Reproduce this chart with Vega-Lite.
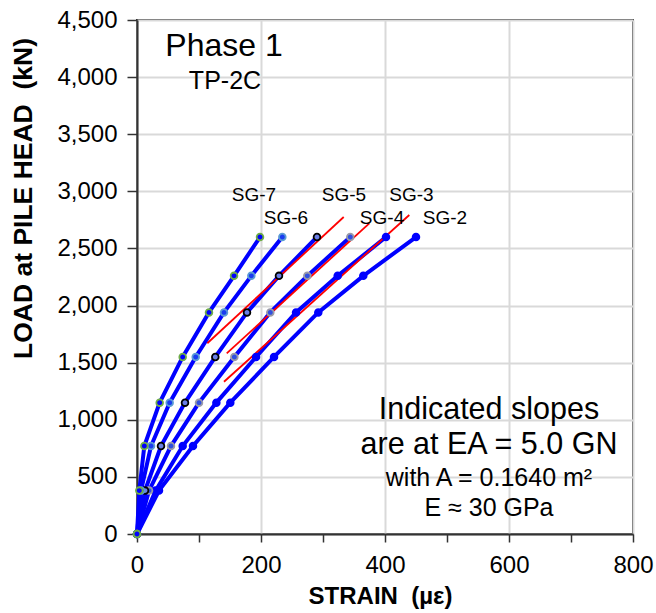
{
  "$schema": "https://vega.github.io/schema/vega-lite/v6.json",
  "width": 496,
  "height": 514,
  "autosize": "none",
  "padding": {"left": 137, "top": 20, "right": 23, "bottom": 79},
  "background": "white",
  "config": {
    "view": {"stroke": "#333333", "strokeWidth": 2},
    "font": "Liberation Sans",
    "axis": {
      "domainColor": "#333333",
      "domainWidth": 2,
      "tickColor": "#333333",
      "tickWidth": 1.5,
      "labelFont": "Liberation Sans",
      "labelFontSize": 24,
      "labelColor": "#000000",
      "labelFlush": false,
      "labelOverlap": false,
      "titleFont": "Liberation Sans",
      "titleFontWeight": "bold",
      "titleColor": "#000000",
      "titleLimit": 1000,
      "gridColor": "#d9d9d9",
      "gridWidth": 2
    }
  },
  "datasets": {
    "curves": [
      {"series": "SG-2", "strain": 0, "load": 0},
      {"series": "SG-2", "strain": 35.5, "load": 380},
      {"series": "SG-2", "strain": 90.3, "load": 770},
      {"series": "SG-2", "strain": 150.5, "load": 1150},
      {"series": "SG-2", "strain": 221, "load": 1550},
      {"series": "SG-2", "strain": 292.4, "load": 1940},
      {"series": "SG-2", "strain": 365, "load": 2260},
      {"series": "SG-2", "strain": 450, "load": 2600},
      {"series": "SG-3", "strain": 0, "load": 0},
      {"series": "SG-3", "strain": 30, "load": 380},
      {"series": "SG-3", "strain": 73.7, "load": 770},
      {"series": "SG-3", "strain": 128, "load": 1150},
      {"series": "SG-3", "strain": 192, "load": 1550},
      {"series": "SG-3", "strain": 256.5, "load": 1940},
      {"series": "SG-3", "strain": 323.7, "load": 2260},
      {"series": "SG-3", "strain": 401.6, "load": 2600},
      {"series": "SG-4", "strain": 0, "load": 0},
      {"series": "SG-4", "strain": 19.4, "load": 380},
      {"series": "SG-4", "strain": 54.8, "load": 770},
      {"series": "SG-4", "strain": 100, "load": 1150},
      {"series": "SG-4", "strain": 157, "load": 1550},
      {"series": "SG-4", "strain": 215, "load": 1940},
      {"series": "SG-4", "strain": 274.7, "load": 2260},
      {"series": "SG-4", "strain": 344, "load": 2600},
      {"series": "SG-5", "strain": 0, "load": 0},
      {"series": "SG-5", "strain": 12.9, "load": 380},
      {"series": "SG-5", "strain": 38.7, "load": 770},
      {"series": "SG-5", "strain": 77.4, "load": 1150},
      {"series": "SG-5", "strain": 126.3, "load": 1550},
      {"series": "SG-5", "strain": 177.4, "load": 1940},
      {"series": "SG-5", "strain": 229, "load": 2260},
      {"series": "SG-5", "strain": 290.3, "load": 2600},
      {"series": "SG-6", "strain": 0, "load": 0},
      {"series": "SG-6", "strain": 6.5, "load": 380},
      {"series": "SG-6", "strain": 22.6, "load": 770},
      {"series": "SG-6", "strain": 52.7, "load": 1150},
      {"series": "SG-6", "strain": 94.7, "load": 1550},
      {"series": "SG-6", "strain": 140.3, "load": 1940},
      {"series": "SG-6", "strain": 184.4, "load": 2260},
      {"series": "SG-6", "strain": 234.4, "load": 2600},
      {"series": "SG-7", "strain": 0, "load": 0},
      {"series": "SG-7", "strain": 3.7, "load": 380},
      {"series": "SG-7", "strain": 11.8, "load": 770},
      {"series": "SG-7", "strain": 36.6, "load": 1150},
      {"series": "SG-7", "strain": 73.7, "load": 1550},
      {"series": "SG-7", "strain": 116.1, "load": 1940},
      {"series": "SG-7", "strain": 156.5, "load": 2260},
      {"series": "SG-7", "strain": 198.4, "load": 2600}
    ],
    "slopes": [
      {"slope": "A", "strain": 113.4, "load": 1670},
      {"slope": "A", "strain": 333.4, "load": 2775},
      {"slope": "B", "strain": 144.7, "load": 1582},
      {"slope": "B", "strain": 374.7, "load": 2720},
      {"slope": "C", "strain": 140.3, "load": 1333},
      {"slope": "C", "strain": 439.2, "load": 2793}
    ],
    "labels": [
      {"label": "SG-7", "strain": 188.7, "load": 2968},
      {"label": "SG-6", "strain": 240.3, "load": 2767},
      {"label": "SG-5", "strain": 333.9, "load": 2968},
      {"label": "SG-4", "strain": 395.2, "load": 2767},
      {"label": "SG-3", "strain": 442.7, "load": 2968},
      {"label": "SG-2", "strain": 496.8, "load": 2767}
    ],
    "title1": [{"text": "Phase 1", "strain": 140.3, "load": 4185}],
    "title2": [{"text": "TP-2C", "strain": 141.9, "load": 3896}],
    "note1": [
      {"text": "Indicated slopes", "strain": 567.7, "load": 1004},
      {"text": "are at EA = 5.0 GN", "strain": 567.7, "load": 700}
    ],
    "note2": [
      {"text": "with A = 0.1640 m²", "strain": 567.7, "load": 420},
      {"text": "E ≈ 30 GPa", "strain": 567.7, "load": 158}
    ]
  },
  "layer": [
    {
      "data": {"name": "curves"},
      "mark": {"type": "line", "color": "#0000ff", "strokeWidth": 4},
      "encoding": {
        "x": {
          "field": "strain", "type": "quantitative",
          "scale": {"domain": [0, 800], "nice": false, "zero": false},
          "axis": {
            "values": [0, 100, 200, 300, 400, 500, 600, 700, 800],
            "labelExpr": "datum.value % 200 === 0 ? format(datum.value, 'd') : ''",
            "gridOpacity": {"condition": {"test": "datum.value % 200 === 0", "value": 1}, "value": 0},
            "tickSize": 8,
            "labelPadding": 11,
            "title": "STRAIN\u00a0 (µε)",
            "titleFontSize": 24,
            "titleY": 69,
            "titleX": 243,
            "titleBaseline": "alphabetic",
            "titleAlign": "center"
          }
        },
        "y": {
          "field": "load", "type": "quantitative",
          "scale": {"domain": [0, 4500], "nice": false, "zero": false},
          "axis": {
            "values": [0, 250, 500, 750, 1000, 1250, 1500, 1750, 2000, 2250, 2500, 2750, 3000, 3250, 3500, 3750, 4000, 4250, 4500],
            "labelExpr": "datum.value % 500 === 0 ? format(datum.value, ',') : ''",
            "gridOpacity": {"condition": {"test": "datum.value % 500 === 0", "value": 1}, "value": 0},
            "tickSize": 10,
            "labelPadding": 10,
            "title": "LOAD at PILE HEAD\u00a0 (kN)",
            "titleFontSize": 26.5,
            "titleAngle": -90,
            "titleX": -114,
            "titleY": 178,
            "titleAlign": "center",
            "titleBaseline": "middle"
          }
        },
        "detail": {"field": "series"},
        "order": {"field": "load"}
      }
    },
    {
      "data": {"name": "slopes"},
      "mark": {"type": "line", "color": "#ff0000", "strokeWidth": 1.8},
      "encoding": {
        "x": {"field": "strain", "type": "quantitative"},
        "y": {"field": "load", "type": "quantitative"},
        "detail": {"field": "slope"}
      }
    },
    {
      "data": {"name": "curves"},
      "mark": {"type": "point", "filled": false, "strokeWidth": 1.8, "size": 45, "opacity": 1},
      "encoding": {
        "x": {"field": "strain", "type": "quantitative"},
        "y": {"field": "load", "type": "quantitative"},
        "stroke": {
          "field": "series", "type": "nominal",
          "scale": {"domain": ["SG-2", "SG-3", "SG-4", "SG-5", "SG-6", "SG-7"], "range": ["#0000ff", "#0000ff", "#9a9aa8", "#000000", "#5b9bd5", "#70ad47"]},
          "legend": null
        },
        "fill": {
          "field": "series", "type": "nominal",
          "scale": {"domain": ["SG-2", "SG-3", "SG-4", "SG-5", "SG-6", "SG-7"], "range": ["#0000ff", "#0000ff", "#3050e0", "#6a7fe6", "#1a3cf0", "#0000ff"]},
          "legend": null
        }
      }
    },
    {
      "data": {"name": "labels"},
      "mark": {"type": "text", "fontSize": 19, "align": "center", "baseline": "middle", "color": "#000000"},
      "encoding": {
        "x": {"field": "strain", "type": "quantitative"},
        "y": {"field": "load", "type": "quantitative"},
        "text": {"field": "label"}
      }
    },
    {
      "data": {"name": "title1"},
      "mark": {"type": "text", "fontSize": 32, "align": "center", "baseline": "alphabetic", "color": "#000000"},
      "encoding": {
        "x": {"field": "strain", "type": "quantitative"},
        "y": {"field": "load", "type": "quantitative"},
        "text": {"field": "text"}
      }
    },
    {
      "data": {"name": "title2"},
      "mark": {"type": "text", "fontSize": 25, "align": "center", "baseline": "alphabetic", "color": "#000000"},
      "encoding": {
        "x": {"field": "strain", "type": "quantitative"},
        "y": {"field": "load", "type": "quantitative"},
        "text": {"field": "text"}
      }
    },
    {
      "data": {"name": "note1"},
      "mark": {"type": "text", "fontSize": 30.5, "align": "center", "baseline": "alphabetic", "color": "#000000"},
      "encoding": {
        "x": {"field": "strain", "type": "quantitative"},
        "y": {"field": "load", "type": "quantitative"},
        "text": {"field": "text"}
      }
    },
    {
      "data": {"name": "note2"},
      "mark": {"type": "text", "fontSize": 25, "align": "center", "baseline": "alphabetic", "color": "#000000"},
      "encoding": {
        "x": {"field": "strain", "type": "quantitative"},
        "y": {"field": "load", "type": "quantitative"},
        "text": {"field": "text"}
      }
    }
  ]
}
